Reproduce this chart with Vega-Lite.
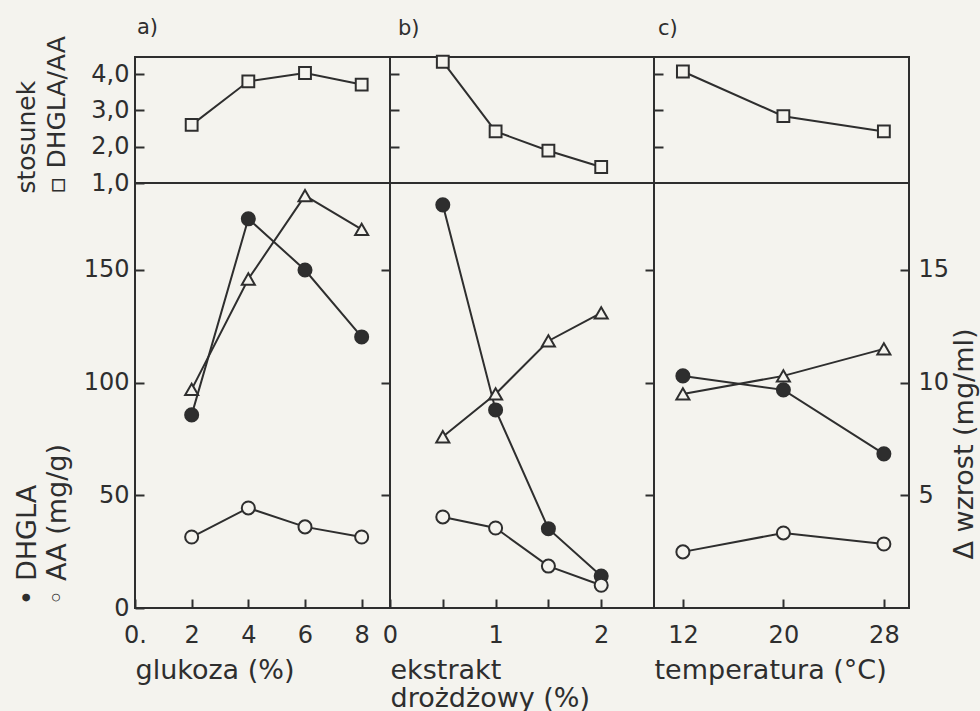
{
  "$schema": "https://vega.github.io/schema/vega-lite/v6.json",
  "background": "#f4f3ee",
  "padding": {"left": 12, "top": 15, "right": 2, "bottom": 2},
  "datasets": {
    "a": [
      {"x": 2, "ratio": 2.6, "dhgla": 85.7, "aa": 31.5, "growth": 9.7},
      {"x": 4, "ratio": 3.8, "dhgla": 172.7, "aa": 44.4, "growth": 14.6},
      {"x": 6, "ratio": 4.03, "dhgla": 150, "aa": 36, "growth": 18.3},
      {"x": 8, "ratio": 3.71, "dhgla": 120.3, "aa": 31.5, "growth": 16.8}
    ],
    "b": [
      {"x": 0.5, "ratio": 4.34, "dhgla": 178.9, "aa": 40.4, "growth": 7.6},
      {"x": 1, "ratio": 2.42, "dhgla": 87.9, "aa": 35.5, "growth": 9.5},
      {"x": 1.5, "ratio": 1.89, "dhgla": 35.2, "aa": 18.6, "growth": 11.85},
      {"x": 2, "ratio": 1.44, "dhgla": 14.2, "aa": 10.1, "growth": 13.1}
    ],
    "c": [
      {"x": 12, "ratio": 4.07, "dhgla": 103, "aa": 24.9, "growth": 9.5},
      {"x": 20, "ratio": 2.84, "dhgla": 96.8, "aa": 33.3, "growth": 10.3},
      {"x": 28, "ratio": 2.42, "dhgla": 68.4, "aa": 28.4, "growth": 11.5}
    ]
  },
  "columns": 3,
  "spacing": 0,
  "bounds": "flush",
  "resolve": {"scale": {"x": "independent", "y": "independent"}},
  "config": {
    "view": {"stroke": "#2e2e2e", "strokeWidth": 2},
    "font": "DejaVu Sans",
    "axis": {
      "domain": false, "grid": false, "ticks": true, "tickSize": -9, "tickWidth": 2,
      "tickColor": "#2e2e2e", "labelFont": "DejaVu Sans", "labelFontSize": 24,
      "labelColor": "#2e2e2e", "titleFont": "DejaVu Sans", "titleFontSize": 27,
      "titleFontWeight": "normal", "titleColor": "#2e2e2e", "labelFlush": false,
      "labelOverlap": false
    },
    "title": {"font": "DejaVu Sans", "fontSize": 21, "fontWeight": "normal", "color": "#2e2e2e", "anchor": "start", "frame": "group", "baseline": "alphabetic", "offset": 13}
  },
  "concat": [
    {
      "width": 255, "height": 126,
      "data": {"name": "a"},
      "title": {"text": "a)", "dx": 2, "dy": 15},
      "encoding": {
        "x": {"field": "x", "type": "quantitative", "scale": {"domain": [0, 9]}, "axis": null},
        "y": {"field": "ratio", "type": "quantitative", "scale": {"domain": [1, 4.47]},
          "axis": {"values": [1, 2, 3, 4], "labelExpr": "replace(format(datum.value, '.1f'), '.', ',')",
            "labelPadding": 15, "title": ["stosunek", "▫ DHGLA/AA"], "titleFontSize": 25, "titleX": -121, "titleY": 136,
            "titleAlign": "left", "titleBaseline": "top", "titleAngle": -90, "titleLineHeight": 30}}
      },
      "layer": [
        {"mark": {"type": "line", "color": "#2e2e2e", "strokeWidth": 2}},
        {"mark": {"type": "point", "shape": "square", "size": 140, "filled": true, "fill": "#f4f3ee", "stroke": "#2e2e2e", "strokeWidth": 2, "opacity": 1}}
      ]
    },
    {
      "width": 264, "height": 126,
      "data": {"name": "b"},
      "title": {"text": "b)", "dx": 8},
      "encoding": {
        "x": {"field": "x", "type": "quantitative", "scale": {"domain": [0, 2.5]}, "axis": null},
        "y": {"field": "ratio", "type": "quantitative", "scale": {"domain": [1, 4.47]},
          "axis": {"values": [2, 3, 4], "labels": false, "title": null}}
      },
      "layer": [
        {"mark": {"type": "line", "color": "#2e2e2e", "strokeWidth": 2}},
        {"mark": {"type": "point", "shape": "square", "size": 140, "filled": true, "fill": "#f4f3ee", "stroke": "#2e2e2e", "strokeWidth": 2, "opacity": 1}}
      ]
    },
    {
      "width": 255, "height": 126,
      "data": {"name": "c"},
      "title": {"text": "c)", "dx": 4, "dy": -5},
      "encoding": {
        "x": {"field": "x", "type": "quantitative", "scale": {"domain": [9.7, 30]}, "axis": null},
        "y": {"field": "ratio", "type": "quantitative", "scale": {"domain": [1, 4.47]},
          "axis": {"values": [2, 3, 4], "labels": false, "title": null}}
      },
      "layer": [
        {"mark": {"type": "line", "color": "#2e2e2e", "strokeWidth": 2}},
        {"mark": {"type": "point", "shape": "square", "size": 140, "filled": true, "fill": "#f4f3ee", "stroke": "#2e2e2e", "strokeWidth": 2, "opacity": 1}}
      ]
    },
    {
      "width": 255, "height": 425,
      "data": {"name": "a"},
      "encoding": {
        "x": {"field": "x", "type": "quantitative", "scale": {"domain": [0, 9]},
          "axis": {"values": [0, 2, 4, 6, 8], "labelExpr": "datum.value === 0 ? '0.' : format(datum.value, 'd')",
            "labelPadding": 24, "title": "glukoza (%)", "titleAnchor": "start", "titleAlign": "left", "titlePadding": 10}}
      },
      "resolve": {"scale": {"y": "independent"}},
      "layer": [
        {
          "encoding": {
            "y": {"field": "dhgla", "type": "quantitative", "scale": {"domain": [0, 188.6]},
              "axis": {"values": [0, 50, 100, 150], "labelPadding": 15, "title": ["• DHGLA", "◦ AA  (mg/g)"],
                "titleX": -121, "titleY": 422, "titleAlign": "left", "titleBaseline": "top", "titleAngle": -90, "titleLineHeight": 30}}
          },
          "layer": [
            {"mark": {"type": "line", "color": "#2e2e2e", "strokeWidth": 2}},
            {"mark": {"type": "line", "color": "#2e2e2e", "strokeWidth": 2}, "encoding": {"y": {"field": "aa", "type": "quantitative"}}},
            {"mark": {"type": "point", "shape": "circle", "size": 170, "filled": true, "fill": "#2e2e2e", "stroke": "#2e2e2e", "strokeWidth": 2, "opacity": 1}},
            {"mark": {"type": "point", "shape": "circle", "size": 170, "filled": true, "fill": "#f4f3ee", "stroke": "#2e2e2e", "strokeWidth": 2, "opacity": 1}, "encoding": {"y": {"field": "aa", "type": "quantitative"}}}
          ]
        },
        {
          "encoding": {
            "y": {"field": "growth", "type": "quantitative", "scale": {"domain": [0, 18.86]},
              "axis": {"orient": "right", "values": [5, 10, 15], "labels": false, "title": null}}
          },
          "layer": [
            {"mark": {"type": "line", "color": "#2e2e2e", "strokeWidth": 2}},
            {"mark": {"type": "point", "shape": "triangle-up", "size": 170, "filled": true, "fill": "#f4f3ee", "stroke": "#2e2e2e", "strokeWidth": 2, "opacity": 1}}
          ]
        }
      ]
    },
    {
      "width": 264, "height": 425,
      "data": {"name": "b"},
      "encoding": {
        "x": {"field": "x", "type": "quantitative", "scale": {"domain": [0, 2.5]},
          "axis": {"values": [0, 0.5, 1, 1.5, 2], "labelExpr": "datum.value % 1 === 0 ? format(datum.value, 'd') : ''",
            "labelPadding": 24, "title": ["ekstrakt", "drożdżowy (%)"], "titleAnchor": "start", "titleAlign": "left", "titlePadding": 10, "titleLineHeight": 28}}
      },
      "resolve": {"scale": {"y": "independent"}},
      "layer": [
        {
          "encoding": {
            "y": {"field": "dhgla", "type": "quantitative", "scale": {"domain": [0, 188.6]}, "axis": null}
          },
          "layer": [
            {"mark": {"type": "line", "color": "#2e2e2e", "strokeWidth": 2}},
            {"mark": {"type": "line", "color": "#2e2e2e", "strokeWidth": 2}, "encoding": {"y": {"field": "aa", "type": "quantitative"}}},
            {"mark": {"type": "point", "shape": "circle", "size": 170, "filled": true, "fill": "#2e2e2e", "stroke": "#2e2e2e", "strokeWidth": 2, "opacity": 1}},
            {"mark": {"type": "point", "shape": "circle", "size": 170, "filled": true, "fill": "#f4f3ee", "stroke": "#2e2e2e", "strokeWidth": 2, "opacity": 1}, "encoding": {"y": {"field": "aa", "type": "quantitative"}}}
          ]
        },
        {
          "encoding": {
            "y": {"field": "growth", "type": "quantitative", "scale": {"domain": [0, 18.86]},
              "axis": {"orient": "right", "values": [5, 10, 15], "labels": false, "title": null}}
          },
          "layer": [
            {"mark": {"type": "line", "color": "#2e2e2e", "strokeWidth": 2}},
            {"mark": {"type": "point", "shape": "triangle-up", "size": 170, "filled": true, "fill": "#f4f3ee", "stroke": "#2e2e2e", "strokeWidth": 2, "opacity": 1}}
          ]
        }
      ]
    },
    {
      "width": 255, "height": 425,
      "data": {"name": "c"},
      "encoding": {
        "x": {"field": "x", "type": "quantitative", "scale": {"domain": [9.7, 30]},
          "axis": {"values": [12, 20, 28], "labelPadding": 24, "title": "temperatura (°C)", "titleAnchor": "start", "titleAlign": "left", "titlePadding": 10}}
      },
      "resolve": {"scale": {"y": "independent"}},
      "layer": [
        {
          "encoding": {
            "y": {"field": "dhgla", "type": "quantitative", "scale": {"domain": [0, 188.6]}, "axis": null}
          },
          "layer": [
            {"mark": {"type": "line", "color": "#2e2e2e", "strokeWidth": 2}},
            {"mark": {"type": "line", "color": "#2e2e2e", "strokeWidth": 2}, "encoding": {"y": {"field": "aa", "type": "quantitative"}}},
            {"mark": {"type": "point", "shape": "circle", "size": 170, "filled": true, "fill": "#2e2e2e", "stroke": "#2e2e2e", "strokeWidth": 2, "opacity": 1}},
            {"mark": {"type": "point", "shape": "circle", "size": 170, "filled": true, "fill": "#f4f3ee", "stroke": "#2e2e2e", "strokeWidth": 2, "opacity": 1}, "encoding": {"y": {"field": "aa", "type": "quantitative"}}}
          ]
        },
        {
          "encoding": {
            "y": {"field": "growth", "type": "quantitative", "scale": {"domain": [0, 18.86]},
              "axis": {"orient": "right", "values": [5, 10, 15], "labelPadding": 18, "title": "Δ  wzrost  (mg/ml)", "titleFontSize": 27,
                "titleX": 42, "titleY": 376, "titleAlign": "left", "titleBaseline": "top", "titleAngle": -90}}
          },
          "layer": [
            {"mark": {"type": "line", "color": "#2e2e2e", "strokeWidth": 2}},
            {"mark": {"type": "point", "shape": "triangle-up", "size": 170, "filled": true, "fill": "#f4f3ee", "stroke": "#2e2e2e", "strokeWidth": 2, "opacity": 1}}
          ]
        }
      ]
    }
  ]
}
